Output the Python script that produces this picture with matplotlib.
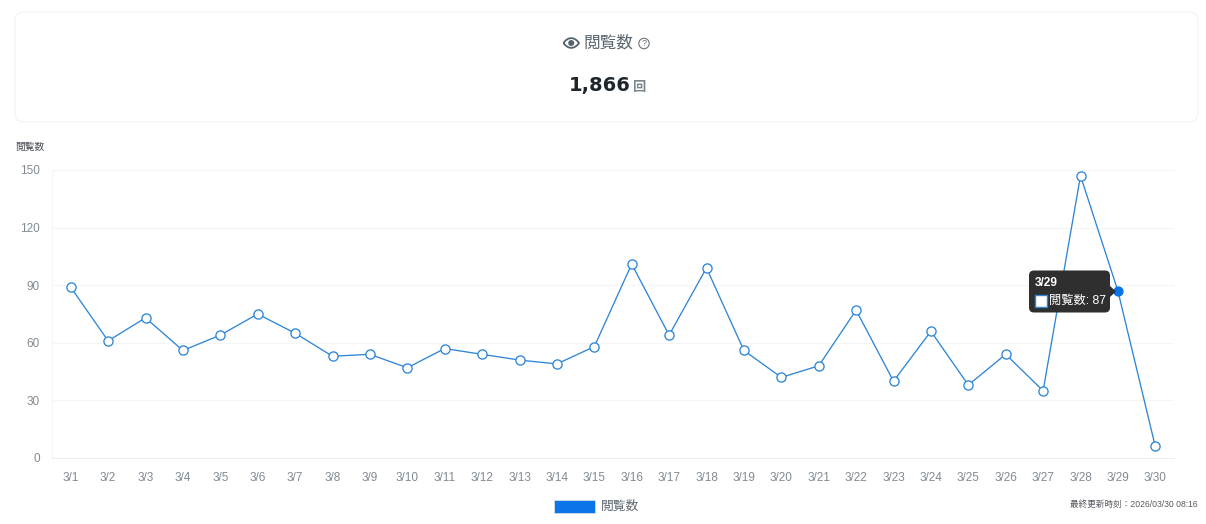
import matplotlib
matplotlib.use("Agg")
import matplotlib.pyplot as plt
from matplotlib.patches import Circle, FancyBboxPatch, PathPatch, Polygon, Rectangle
from matplotlib.path import Path

plt.rcParams["font.family"] = ["Liberation Sans", "Noto Sans CJK JP", "DejaVu Sans"]

W, H = 1206, 524
BLUE = "#0a74e8"
LINE = "#2f86d6"
GRID = "#f4f5f7"
TICK = "#808a92"
CJK = ["Noto Sans CJK JP", "DejaVu Sans"]

days = [f"3/{d}" for d in range(1, 31)]
views = [89, 61, 73, 56, 64, 75, 65, 53, 54, 47, 57, 54, 51, 49, 58,
         101, 64, 99, 56, 42, 48, 77, 40, 66, 38, 54, 35, 147, 87, 6]
y_ticks = [0, 30, 60, 90, 120, 150]
total_label = "1,866"
hover_index = 28

fig = plt.figure(figsize=(W / 100, H / 100), dpi=100, facecolor="white")

# pixel-space layer for the card, icons and captions
bg = fig.add_axes([0, 0, 1, 1])
bg.set_xlim(0, W)
bg.set_ylim(H, 0)
bg.axis("off")

bg.add_patch(FancyBboxPatch((15, 12), 1183, 110, boxstyle="round,pad=0,rounding_size=9",
                            fc="white", ec="#f3f4f6", lw=0.9))

# eye icon, almond outline with a pupil
eye = Path([(563.5, 43), (568, 36.5), (574.5, 36.5), (579, 43), (574.5, 49.5), (568, 49.5), (563.5, 43)],
           [Path.MOVETO, Path.CURVE4, Path.CURVE4, Path.CURVE4, Path.CURVE4, Path.CURVE4, Path.CURVE4])
bg.add_patch(PathPatch(eye, fc="white", ec="#56636b", lw=1.3))
bg.add_patch(Circle((571.2, 43), 3.0, fc="#56636b", ec="none"))
bg.text(608.5, 43.5, "閲覧数", fontsize=12, color="#5c6870", ha="center", va="center", family=CJK)
# help icon
bg.add_patch(Circle((644, 43.5), 5.2, fc="white", ec="#6a747b", lw=0.8))
bg.text(644, 43.7, "?", fontsize=6.5, color="#6a747b", ha="center", va="center")

bg.text(630.5, 85.5, total_label, fontsize=14, fontweight="bold", color="#1f262b",
        ha="right", va="center", family=["DejaVu Sans"])
bg.text(632, 87, "回", fontsize=9.5, fontweight="bold", color="#7a868e", ha="left", va="center", family=CJK)

bg.text(15, 146.5, "閲覧数", fontsize=7, color="#4a4f55", ha="left", va="center", family=CJK)

# legend swatch and last-updated note
bg.add_patch(Rectangle((554, 500), 41, 13, fc=BLUE, ec="#d5dce3", lw=0.6))
bg.text(601, 506.5, "閲覧数", fontsize=9.2, color="#5f6a72", ha="left", va="center", family=CJK)
bg.text(1198, 504, "最終更新時刻：2026/03/30 08:16", fontsize=6.2, color="#55595e",
        ha="right", va="center")

# main line chart
ax = fig.add_axes([52 / W, 1 - 458 / H, (1174 - 52) / W, (458 - 170) / H])
ax.set_facecolor("none")
x = list(range(len(days)))
ax.plot(x, views, color=LINE, lw=0.95, zorder=3, clip_on=False)
ax.plot(x[:hover_index] + x[hover_index + 1:],
        views[:hover_index] + views[hover_index + 1:],
        ls="none", marker="o", ms=6.6, mfc="white", mec=LINE, mew=0.95, zorder=4, clip_on=False)
ax.plot(x[hover_index], views[hover_index], ls="none", marker="o", ms=6.4, mfc=BLUE, mec=BLUE,
        zorder=4, clip_on=False)

ax.set_xlim(-0.5, len(days) - 0.5)
ax.set_ylim(0, 150)
ax.set_xticks(x, days)
ax.set_yticks(y_ticks)
ax.grid(axis="y", color=GRID, lw=0.8)
ax.set_axisbelow(True)
ax.axvline(-0.5, color=GRID, lw=0.8)
ax.axvline(len(days) - 0.5, color=GRID, lw=0.8)
for side in ax.spines.values():
    side.set_visible(False)
ax.spines["bottom"].set_visible(True)
ax.spines["bottom"].set_color("#eceef1")
ax.spines["bottom"].set_linewidth(0.8)
ax.tick_params(axis="x", length=0, pad=10, labelsize=8.5, labelcolor=TICK)
ax.tick_params(axis="y", length=0, pad=8.6, labelsize=8.5, labelcolor=TICK)

# hover tooltip drawn on top of the line
top = fig.add_axes([0, 0, 1, 1])
top.set_xlim(0, W)
top.set_ylim(H, 0)
top.axis("off")
top.patch.set_alpha(0)
top.add_patch(FancyBboxPatch((1029, 270.5), 81, 42, boxstyle="round,pad=0,rounding_size=5",
                             fc="#2f2f2f", ec="none", zorder=5))
top.add_patch(Polygon([(1110, 286), (1116, 291.5), (1110, 297)], fc="#2f2f2f", ec="none", zorder=5))
top.text(1035, 282.5, f"{days[hover_index]}", fontsize=8.6, fontweight="bold", color="white",
         ha="left", va="center", zorder=6)
top.add_patch(Rectangle((1034.5, 294.5), 12.5, 12.5, fc="white", ec=LINE, lw=1, zorder=6))
top.text(1049, 301, f"閲覧数: {views[hover_index]}", fontsize=8.8, color="white",
         ha="left", va="center", zorder=6)

fig.savefig("out.png", dpi=100)
